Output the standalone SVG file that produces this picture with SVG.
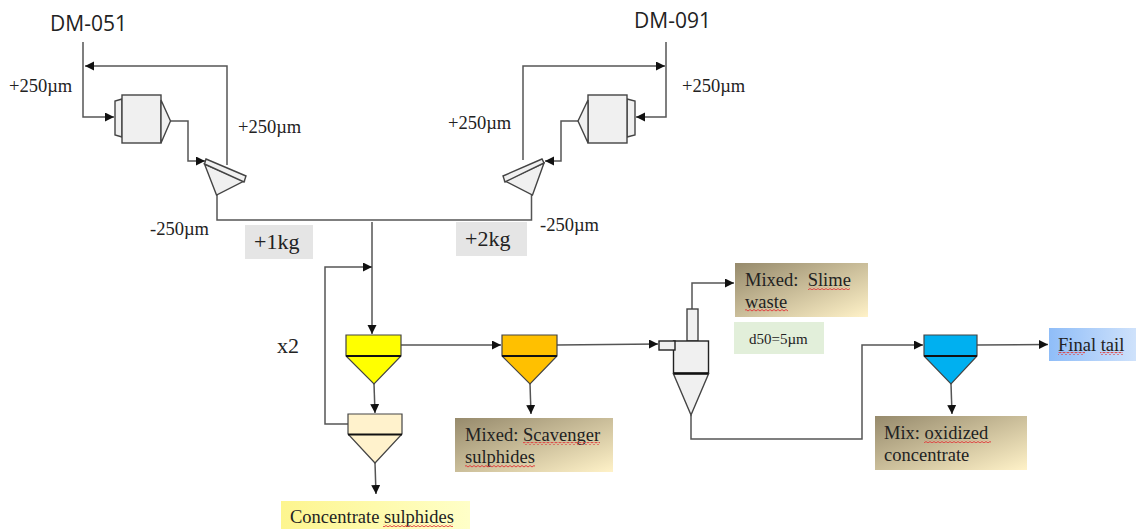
<svg xmlns="http://www.w3.org/2000/svg" width="1136" height="529" viewBox="0 0 1136 529">
<style>
text{font-family:"Liberation Serif","Times New Roman",serif;font-size:18.500px;fill:#222;white-space:pre}
.dm{font-family:"Open Sans","Noto Sans",sans-serif;font-size:21px}
.big{font-size:22px}
.c{fill:none;stroke:#555;stroke-width:1.500}
.e{fill:#f0f0f0;stroke:#444;stroke-width:1.400}
.k{fill:none;stroke:#111;stroke-width:2}
</style>
<defs>
<marker id="a" markerUnits="userSpaceOnUse" markerWidth="11" markerHeight="11" refX="9" refY="4.500" orient="auto"><path d="M0 0L9 4.500L0 9Z" fill="#111"/></marker>
<pattern id="sq" width="4" height="3" patternUnits="userSpaceOnUse"><path d="M0 2L2 .5L4 2" fill="none" stroke="#e04040" stroke-width="1"/></pattern>
<linearGradient id="tan" x1="0" y1="0" x2="1" y2="1"><stop offset="0" stop-color="#968a6c"/><stop offset="1" stop-color="#fff2c8"/></linearGradient>
<linearGradient id="blue" x1="0" y1="0" x2="1" y2="0"><stop offset="0" stop-color="#8fbdf8"/><stop offset="1" stop-color="#cfe2fb"/></linearGradient>
<linearGradient id="lem" x1="0" y1="0" x2="1" y2="0"><stop offset="0" stop-color="#fdf58f"/><stop offset="1" stop-color="#ffffc8"/></linearGradient>
</defs>
<g id="connectors">
<path class="c" d="M83 42V117H114" marker-end="url(#a)"/>
<path class="c" d="M227 165V66H85" marker-end="url(#a)"/>
<path class="c" d="M171 121H188V161H205" marker-end="url(#a)"/>
<path class="c" d="M217 195V220H531.500V195"/>
<path class="c" d="M666 42V117H636" marker-end="url(#a)"/>
<path class="c" d="M523 160V66H665" marker-end="url(#a)"/>
<path class="c" d="M578 121H561V161H545" marker-end="url(#a)"/>
<path class="c" d="M372 222V334" marker-end="url(#a)"/>
<path class="c" d="M348 424H325V267H372" marker-end="url(#a)"/>
<path class="c" d="M374 384L375 413" marker-end="url(#a)"/>
<path class="c" d="M375 463L376 494" marker-end="url(#a)"/>
<path class="c" d="M401 345H501" marker-end="url(#a)"/>
<path class="c" d="M530 384L531 414" marker-end="url(#a)"/>
<path class="c" d="M557 345L658 344" marker-end="url(#a)"/>
<path class="c" d="M692 309V283H734" marker-end="url(#a)"/>
<path class="c" d="M691 415V439H862V345H923" marker-end="url(#a)"/>
<path class="c" d="M951 384L952 414" marker-end="url(#a)"/>
<path class="c" d="M977 345L1048 344.500" marker-end="url(#a)"/>
</g>
<g id="mill-left">
<path class="e" d="M122 99L115 101V135L122 137Z"/><rect class="e" x="122" y="95" width="39" height="48"/><path class="e" d="M161 100L170.500 121L161 143Z"/>
</g>
<g id="mill-right">
<path class="e" d="M627 99L635 101V135L627 137Z"/><rect class="e" x="588" y="95" width="39" height="48"/><path class="e" d="M588 100L578 121L588 143Z"/>
</g>
<g id="screen-left">
<path class="e" d="M204.500 164L216.500 195L244 181Z"/><path class="e" d="M206 159L246 176L244 182L204.500 164Z"/>
</g>
<g id="screen-right">
<path class="e" d="M544 163L532.500 195L505 181Z"/><path class="e" d="M542 159L503 176L505 182L544 163Z"/>
</g>
<g id="cell-yellow"><path d="M346 335H401V356L374 384L346 356Z" fill="#ffff00" stroke="#444" stroke-width="1.200"/><path class="k" d="M346 356H401"/></g>
<g id="cell-cream"><path d="M348 414H402V434L375 463L348 434Z" fill="#fff2cc" stroke="#444" stroke-width="1.200"/><path class="k" d="M348 434.500H402"/></g>
<g id="cell-orange"><path d="M502 335H557V356L530 384L502 356Z" fill="#ffc000" stroke="#444" stroke-width="1.200"/><path class="k" d="M502 356H557"/></g>
<g id="cell-blue"><path d="M924 335H977V356L951 384L924 356Z" fill="#00b0f0" stroke="#444" stroke-width="1.200"/><path class="k" d="M924 356H977"/></g>
<g id="hydrocyclone">
<rect class="e" x="687" y="309" width="11" height="32"/>
<rect x="673.500" y="341" width="35" height="32" fill="#f0f0f0" stroke="#222" stroke-width="1.400"/>
<rect x="659" y="341" width="16" height="9" fill="#f0f0f0" stroke="#222" stroke-width="1.400"/>
<path class="e" d="M673.500 374H708.500L691 415Z"/><path class="k" d="M673.500 373.500H708.500"/>
</g>
<g id="label-dm051"><text class="dm" x="50" y="31">DM-051</text></g>
<g id="label-dm091"><text class="dm" x="634" y="28">DM-091</text></g>
<g id="label-p1"><text x="9" y="92">+250µm</text></g>
<g id="label-p2"><text x="238" y="133">+250µm</text></g>
<g id="label-p3"><text x="448" y="129">+250µm</text></g>
<g id="label-p4"><text x="682" y="92">+250µm</text></g>
<g id="label-m1"><text x="150" y="235">-250µm</text></g>
<g id="label-m2"><text x="540" y="231">-250µm</text></g>
<g id="box-1kg"><rect x="245" y="225" width="68" height="34" fill="#e5e5e5"/><text class="big" x="254" y="249">+1kg</text></g>
<g id="box-2kg"><rect x="456" y="222" width="71" height="34" fill="#e5e5e5"/><text class="big" x="465" y="246">+2kg</text></g>
<g id="label-x2"><text class="big" x="277" y="353">x2</text></g>
<g id="box-slime"><rect x="735" y="263" width="133" height="54" fill="url(#tan)"/><text x="745" y="286" xml:space="preserve">Mixed:  Slime</text><text x="745" y="308">waste</text><rect x="808" y="287" width="42" height="3" fill="url(#sq)"/><rect x="745" y="309" width="43" height="3" fill="url(#sq)"/></g>
<g id="box-d50"><rect x="734" y="322" width="90" height="32" fill="#e2efda"/><text x="749" y="344" style="font-size:15px">d50=5µm</text></g>
<g id="box-scav"><rect x="455" y="418" width="158" height="54" fill="url(#tan)"/><text x="465" y="441">Mixed: Scavenger</text><text x="465" y="463">sulphides</text><rect x="523" y="442" width="77" height="3" fill="url(#sq)"/><rect x="465" y="465" width="70" height="3" fill="url(#sq)"/></g>
<g id="box-conc"><rect x="281" y="501" width="189" height="28" fill="url(#lem)"/><text x="290" y="523">Concentrate sulphides</text><rect x="383" y="524" width="70" height="3" fill="url(#sq)"/></g>
<g id="box-mix"><rect x="875" y="416" width="152" height="54" fill="url(#tan)"/><text x="884" y="439">Mix: oxidized</text><text x="884" y="461">concentrate</text><rect x="924" y="440" width="67" height="3" fill="url(#sq)"/></g>
<g id="box-tail"><rect x="1049" y="328" width="87" height="33" fill="url(#blue)"/><text x="1058" y="351">Final tail</text><rect x="1058" y="352" width="27" height="3" fill="url(#sq)"/><rect x="1100" y="352" width="23" height="3" fill="url(#sq)"/></g>
</svg>
